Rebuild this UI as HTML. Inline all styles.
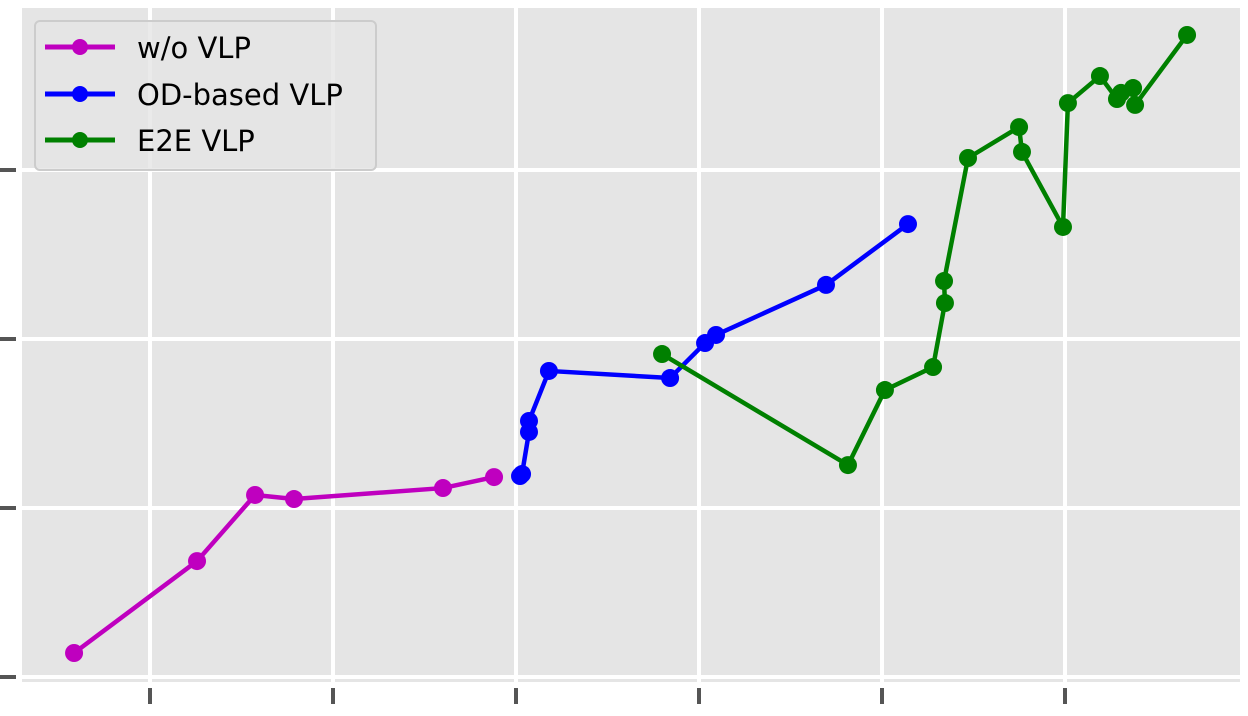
<!DOCTYPE html>
<html><head><meta charset="utf-8"><style>
body{margin:0;background:#fff;}
svg{display:block;font-family:"DejaVu Sans","Liberation Sans",sans-serif;}
</style></head><body>
<svg id="chart" width="1248" height="716" xmlns="http://www.w3.org/2000/svg">
<rect x="22" y="8" width="1218" height="674" fill="#e5e5e5"/>
<g id="grid"></g><g id="ticks"></g><g id="series"></g>
<g>
<rect x="35" y="21" width="341" height="149" rx="5" fill="#e5e5e5" fill-opacity="0.8" stroke="#cccccc" stroke-width="2"/>
<g><line x1="45" y1="47" x2="115" y2="47" stroke="#bf00bf" stroke-width="5"/><circle cx="80" cy="47" r="8" fill="#bf00bf"/><text x="137" y="58" font-size="29">w/o VLP</text></g>
<g><line x1="45" y1="94" x2="115" y2="94" stroke="#0000ff" stroke-width="5"/><circle cx="80" cy="94" r="8" fill="#0000ff"/><text x="137" y="105" font-size="29">OD-based VLP</text></g>
<g><line x1="45" y1="140" x2="115" y2="140" stroke="#008000" stroke-width="5"/><circle cx="80" cy="140" r="8" fill="#008000"/><text x="137" y="151" font-size="29">E2E VLP</text></g>
</g>
</svg>
<script>
const xTicks=[0,1,2,3,4,5];
const yTicks=[0,1,2,3];
const woX=[-0.415,0.257,0.574,0.787,1.601,1.880];
const woY=[0.142,0.686,1.077,1.053,1.118,1.183];
const odX=[2.022,2.033,2.071,2.071,2.180,2.842,3.033,3.093,3.694,4.142];
const odY=[1.189,1.201,1.450,1.515,1.811,1.769,1.976,2.024,2.320,2.680];
const e2eX=[2.798,3.814,4.016,4.279,4.344,4.339,4.470,4.749,4.765,4.989,5.016,5.191,5.284,5.306,5.372,5.383,5.667];
const e2eY=[1.911,1.254,1.698,1.834,2.213,2.343,3.071,3.254,3.107,2.663,3.396,3.556,3.420,3.456,3.485,3.385,3.799];
const sx=v=>150+v*183, sy=v=>677-v*169;
const NS="http://www.w3.org/2000/svg";
function mk(tag,attrs,parent){const e=document.createElementNS(NS,tag);for(const k in attrs)e.setAttribute(k,attrs[k]);parent.appendChild(e);return e;}
const grid=document.getElementById('grid'),ticks=document.getElementById('ticks'),series=document.getElementById('series');
xTicks.forEach(t=>{
 const g=mk('line',{x1:sx(t),x2:sx(t),y1:8,y2:682,stroke:'#fff','stroke-width':4},grid);
 
 
 const k=mk('line',{x1:sx(t),x2:sx(t),y1:688,y2:704,stroke:'#555','stroke-width':4},ticks);
 
 
});
yTicks.forEach(t=>{
 const g=mk('line',{x1:22,x2:1240,y1:sy(t),y2:sy(t),stroke:'#fff','stroke-width':4},grid);
 
 
 const k=mk('line',{x1:0,x2:16,y1:sy(t),y2:sy(t),stroke:'#555','stroke-width':4},ticks);
 
 
});
[[woX,woY,'#bf00bf','wo-vlp'],[odX,odY,'#0000ff','od-based-vlp'],[e2eX,e2eY,'#008000','e2e-vlp']].forEach(([xs,ys,c,n])=>{
 const g=mk('g',{},series);
 
 
 const p=mk('polyline',{points:xs.map((x,i)=>sx(x)+','+sy(ys[i])).join(' '),fill:'none',stroke:c,'stroke-width':4.5,'stroke-linejoin':'round'},g);
 
 
 xs.forEach((x,i)=>{
  const m=mk('circle',{cx:sx(x),cy:sy(ys[i]),r:9,fill:c},g);
  
  
 });
});
</script>
</body></html>
